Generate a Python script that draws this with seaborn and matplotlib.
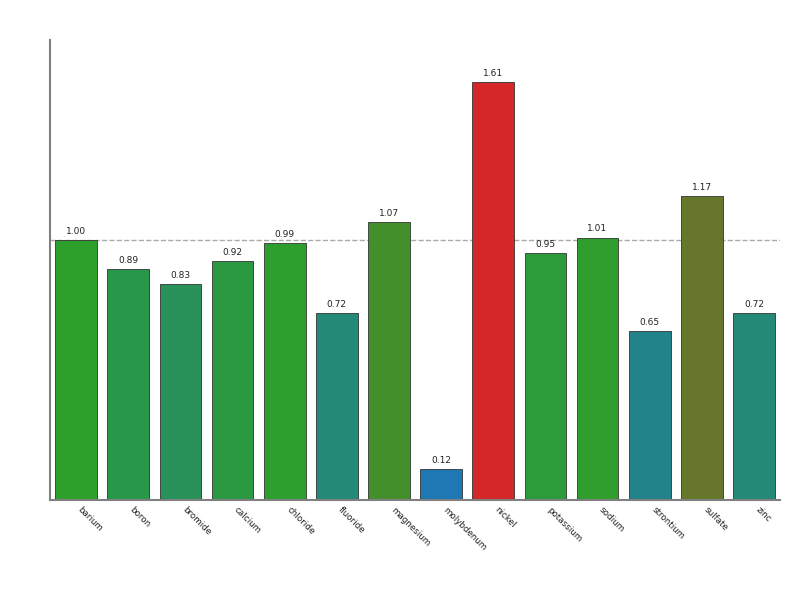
import numpy as np
import pandas as pd
import matplotlib
matplotlib.use("Agg")
import matplotlib.pyplot as plt
import seaborn as sns
from matplotlib.colors import LinearSegmentedColormap, Normalize

# valores
elementos = ["barium", "boron", "bromide", "calcium", "chloride", "fluoride",
             "magnesium", "molybdenum", "nickel", "potassium", "sodium",
             "strontium", "sulfate", "zinc"]
razao = [1.00, 0.89, 0.83, 0.92, 0.99, 0.72, 1.07, 0.12, 1.61, 0.95, 1.01,
         0.65, 1.17, 0.72]

df = pd.DataFrame({"elemento": elementos, "razao": razao})

# azul -> verde -> vermelho, centrado em 1
cmap = LinearSegmentedColormap.from_list("bgr", ["#1f77b4", "#2ca02c", "#d62728"])
norm = Normalize(vmin=0.5, vmax=1.5)
cores = [cmap(norm(v)) for v in razao]

sns.set_style("white")
fig, ax = plt.subplots(figsize=(8, 6), dpi=100)
fig.subplots_adjust(left=0.0625, right=0.975, top=0.9333, bottom=0.1667)

sns.barplot(data=df, x="elemento", y="razao", hue="elemento", palette=cores,
            legend=False, width=0.8, edgecolor="#333333", linewidth=0.6,
            saturation=1, ax=ax)

for cont in ax.containers:
    ax.bar_label(cont, fmt="%.2f", padding=3, fontsize=6.5, color="#222222")

ax.axhline(1.0, color="#aaaaaa", linestyle="--", linewidth=1, zorder=0)

ax.set_xlim(-0.5, len(elementos) - 0.5)
ax.set_ylim(0, max(razao) * 1.1)
ax.set_yticks([])
ax.set_xlabel("")
ax.set_ylabel("")
ax.tick_params(axis="x", length=0, pad=4)
plt.setp(ax.get_xticklabels(), rotation=-45, ha="left", va="top",
         fontsize=6.3, color="#222222")

for lado in ["top", "right"]:
    ax.spines[lado].set_visible(False)
for lado in ["left", "bottom"]:
    ax.spines[lado].set_color("#808080")
    ax.spines[lado].set_linewidth(1.5)

fig.savefig("out.png", dpi=100)
